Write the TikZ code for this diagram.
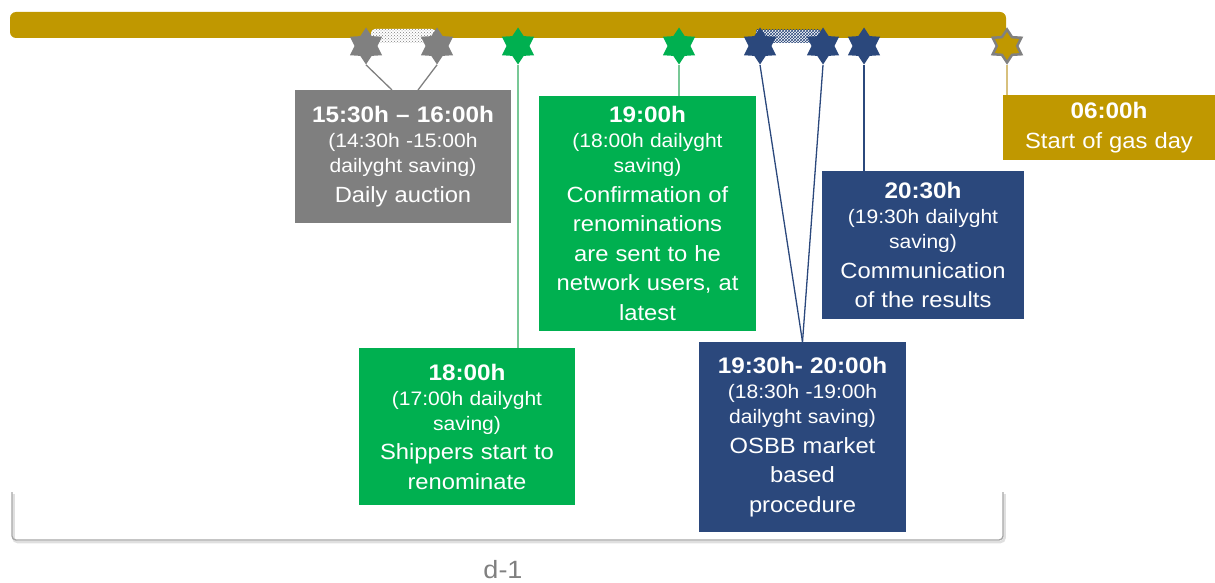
\documentclass[tikz,border=0pt]{standalone}
\usepackage{fontspec}
\setmainfont{Liberation Sans}[FakeStretch=1.08]
\usetikzlibrary{shapes.geometric,patterns}
\definecolor{gold}{RGB}{192,152,0}
\definecolor{navy}{RGB}{43,72,124}
\definecolor{grn}{RGB}{0,176,80}
\definecolor{gbox}{RGB}{127,127,127}
\definecolor{lgrn}{RGB}{120,200,150}
\definecolor{lgold}{RGB}{215,192,125}
\newcommand\hdtxt[1]{{\fontsize{22.5}{28}\selectfont\bfseries\spaceskip=0.32em #1\par}}
\newcommand\smtxt[1]{{\fontsize{19.5}{25}\selectfont\spaceskip=0.32em #1\par}}
\newcommand\lgtxt[1]{{\fontsize{22}{29.5}\selectfont\spaceskip=0.32em #1\par}}
\tikzset{
  tbox/.style={rectangle, inner sep=0pt, text=white, align=center, anchor=center},
  hexstar/.style={star, star points=6, star point ratio=1.62, minimum size=37pt, inner sep=0pt, draw=none},
  conn/.style={line width=1.3pt},
}
\begin{document}
\begin{tikzpicture}[x=1pt,y=-1pt]
\useasboundingbox (0,0) rectangle (1215,583);
% timeline bar
\fill[gold, rounded corners=6pt] (10,12) rectangle (1006,38);
% hatched intervals
\fill[white, rounded corners=4pt] (371,29) rectangle (436,43);
\fill[pattern=crosshatch dots, pattern color=gray, rounded corners=4pt] (371,29) rectangle (436,43);
\fill[white] (756,30) rectangle (820,43);
\fill[pattern=crosshatch, pattern color=navy] (756,30) rectangle (820,43);
% stars
\node[hexstar, fill=gray] (sA) at (366,46) {};
\node[hexstar, fill=gray] (sB) at (437,46) {};
\node[hexstar, fill=grn] (sC) at (518,46) {};
\node[hexstar, fill=grn] (sD) at (679,46) {};
\node[hexstar, fill=navy] (sE) at (760,46) {};
\node[hexstar, fill=navy] (sF) at (823,46) {};
\node[hexstar, fill=navy] (sG) at (864,46) {};
\node[hexstar, fill=gold, draw=gray, line width=2.5pt, minimum size=33pt] (sH) at (1007,46) {};
% boxes
\node[tbox, fill=gbox, minimum width=216pt, minimum height=133pt, text width=210pt] (auction) at (403,156.5)
 {\hdtxt{15:30h -- 16:00h}\smtxt{(14:30h -15:00h\\dailyght saving)}\lgtxt{Daily auction}};
\node[tbox, fill=grn, minimum width=216pt, minimum height=157pt, text width=210pt] (renom) at (467,426.5)
 {\hdtxt{18:00h}\smtxt{(17:00h dailyght\\saving)}\lgtxt{Shippers start to\\renominate}};
\node[tbox, fill=grn, minimum width=217pt, minimum height=235pt, text width=211pt] (confirm) at (647.5,213.5)
 {\hdtxt{19:00h}\smtxt{(18:00h dailyght\\saving)}\lgtxt{Confirmation of\\renominations\\are sent to he\\network users, at\\latest}};
\node[tbox, fill=navy, minimum width=207pt, minimum height=190pt, text width=201pt] (osbb) at (802.5,437)
 {\hdtxt{19:30h- 20:00h}\smtxt{(18:30h -19:00h\\dailyght saving)}\lgtxt{OSBB market\\based\\procedure}};
\node[tbox, fill=navy, minimum width=202pt, minimum height=148pt, text width=196pt] (result) at (923,245)
 {\hdtxt{20:30h}\smtxt{(19:30h dailyght\\saving)}\lgtxt{Communication\\of the results}};
\node[tbox, fill=gold, minimum width=212pt, minimum height=65pt, text width=206pt] (gasday) at (1109,127.5)
 {\hdtxt{06:00h}\lgtxt{Start of gas day}};
% connector end points
\coordinate (aucL) at (392,90);
\coordinate (aucR) at (418,90);
% connectors
\draw[conn, gray] (sA.south) -- (aucL);
\draw[conn, gray] (sB.south) -- (aucR);
\draw[conn, lgrn] (sC.south) -- (sC.south |- renom.north);
\draw[conn, lgrn] (sD.south) -- (sD.south |- confirm.north);
\draw[conn, navy] (sE.south) -- (osbb.north);
\draw[conn, navy] (sF.south) -- (osbb.north);
\draw[conn, navy] (sG.south) -- (sG.south |- result.north);
\draw[conn, lgold] (sH.south) -- (sH.south |- gasday.north);
% bracket
\draw[gray!25, line width=2.5pt, rounded corners=4pt] (13.5,494) -- (13.5,542) -- (1004.5,542) -- (1004.5,494);
\draw[gray!70, line width=1.3pt, rounded corners=4pt] (12,492) -- (12,540) -- (1003,540) -- (1003,492);
\node[text=gray, font=\fontsize{25}{30}\selectfont] (dlabel) at (503,570) {d-1};
\end{tikzpicture}
\end{document}
